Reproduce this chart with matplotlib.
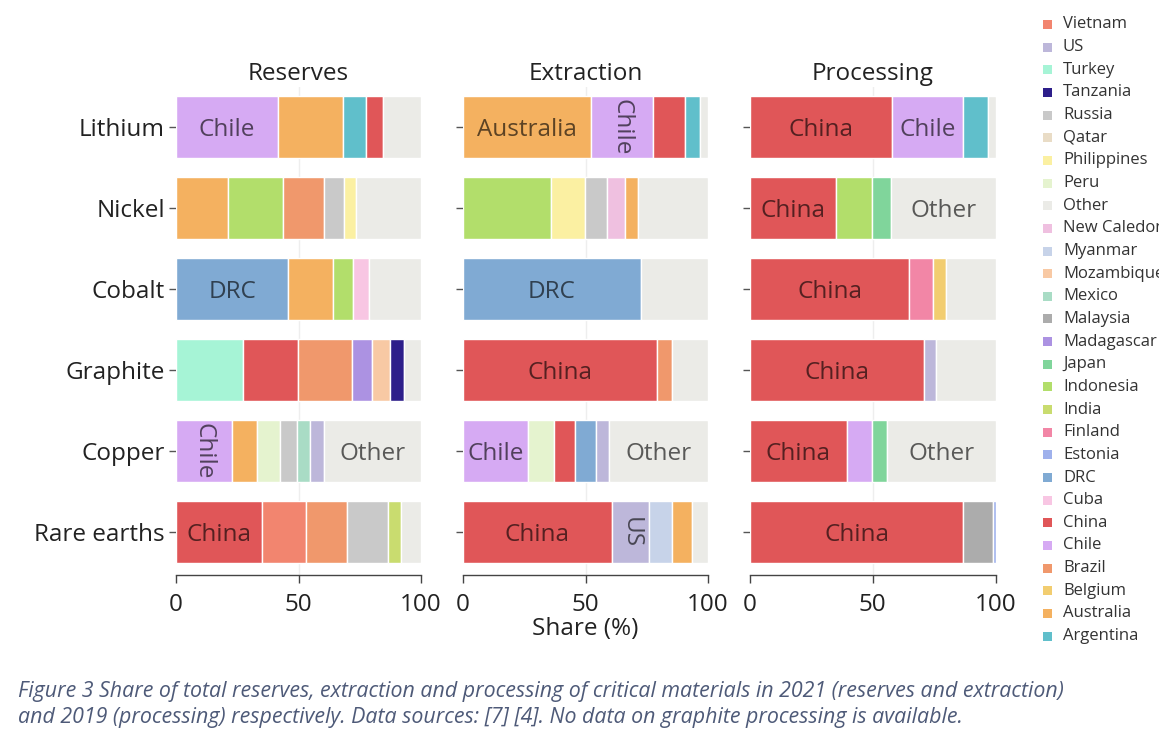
import matplotlib
matplotlib.use("Agg")
import matplotlib.pyplot as plt
from matplotlib.patches import Rectangle

# ---------------- data ----------------
materials = ["Lithium", "Nickel", "Cobalt", "Graphite", "Copper", "Rare earths"]
panel_titles = ["Reserves", "Extraction", "Processing"]
x_ticks = [0, 50, 100]

reserves_countries = [
    ["Chile", "Australia", "Argentina", "China", "Other"],
    ["Australia", "Indonesia", "Brazil", "Russia", "Philippines", "Other"],
    ["DRC", "Australia", "Indonesia", "Cuba", "Other"],
    ["Turkey", "China", "Brazil", "Madagascar", "Mozambique", "Tanzania", "Other"],
    ["Chile", "Australia", "Peru", "Russia", "Mexico", "US", "Other"],
    ["China", "Vietnam", "Brazil", "Russia", "India", "Other"],
]
reserves_shares = [
    [41.6, 26.4, 9.6, 7.0, 15.4],
    [21.4, 22.2, 16.8, 8.0, 4.9, 26.7],
    [45.9, 18.3, 7.9, 6.7, 21.2],
    [27.5, 22.4, 22.1, 8.0, 7.3, 5.9, 6.8],
    [22.7, 10.4, 9.3, 6.9, 5.5, 5.6, 39.6],
    [35.1, 17.9, 16.7, 17.0, 5.0, 8.3],
]
reserves_labelled = [["Chile"], [], ["DRC"], [], ["Chile", "Other"], ["China"]]

extraction_countries = [
    ["Australia", "Chile", "China", "Argentina", "Other"],
    ["Indonesia", "Philippines", "Russia", "New Caledonia", "Australia", "Other"],
    ["DRC", "Other"],
    ["China", "Brazil", "Other"],
    ["Chile", "Peru", "China", "DRC", "US", "Other"],
    ["China", "US", "Myanmar", "Australia", "Other"],
]
extraction_shares = [
    [52.2, 25.2, 13.2, 6.1, 3.3],
    [36.0, 13.8, 9.0, 7.5, 5.3, 28.4],
    [72.5, 27.5],
    [79.3, 6.0, 14.7],
    [26.7, 10.6, 8.3, 8.6, 5.5, 40.3],
    [60.8, 15.1, 9.5, 8.1, 6.5],
]
extraction_labelled = [["Australia", "Chile"], [], ["DRC"], ["China"], ["Chile", "Other"], ["China", "US"]]

processing_countries = [
    ["China", "Chile", "Argentina", "Other"],
    ["China", "Indonesia", "Japan", "Other"],
    ["China", "Finland", "Belgium", "Other"],
    ["China", "US", "Other"],
    ["China", "Chile", "Japan", "Other"],
    ["China", "Malaysia", "Estonia"],
]
processing_shares = [
    [57.7, 29.2, 9.9, 3.2],
    [34.9, 14.7, 7.8, 42.6],
    [64.8, 9.6, 5.3, 20.3],
    [70.9, 5.0, 24.1],
    [39.5, 10.2, 6.0, 44.3],
    [86.9, 11.9, 1.2],
]
processing_labelled = [["China", "Chile"], ["China", "Other"], ["China"], ["China"], ["China", "Other"], ["China"]]

legend_order = ["Vietnam", "US", "Turkey", "Tanzania", "Russia", "Qatar", "Philippines",
                "Peru", "Other", "New Caledonia", "Myanmar", "Mozambique", "Mexico",
                "Malaysia", "Madagascar", "Japan", "Indonesia", "India", "Finland",
                "Estonia", "DRC", "Cuba", "China", "Chile", "Brazil", "Belgium",
                "Australia", "Argentina"]

caption_lines = [
    "Figure 3 Share of total reserves, extraction and processing of critical materials in 2021 (reserves and extraction)",
    "and 2019 (processing) respectively. Data sources: [7] [4]. No data on graphite processing is available.",
]

# ---------------- style ----------------
colors = {
    "Vietnam": "#f2856f", "US": "#bdb7da", "Turkey": "#a6f4d6", "Tanzania": "#2d1e8a",
    "Russia": "#c9c9c9", "Qatar": "#e9dcc6", "Philippines": "#fbf0a2", "Peru": "#e5f3cf",
    "Other": "#ebebe7", "New Caledonia": "#efc0e0", "Myanmar": "#c7d3e9",
    "Mozambique": "#f8c9a4", "Mexico": "#a9dcc5", "Malaysia": "#acacac",
    "Madagascar": "#ac92e2", "Japan": "#80d59b", "Indonesia": "#b2de6b",
    "India": "#c9dc6f", "Finland": "#f286a6", "Estonia": "#9fb1ec", "DRC": "#80aad3",
    "Cuba": "#f8c6e3", "China": "#e05658", "Chile": "#d6aaf3", "Brazil": "#f0986c",
    "Belgium": "#f2cd70", "Australia": "#f4b160", "Argentina": "#60bfcb",
}

plt.rcParams["font.family"] = ["Open Sans", "DejaVu Sans"]
FS = 17.5

W, H = 1159, 752
fig = plt.figure(figsize=(W / 100, H / 100), dpi=100)
fig.patch.set_facecolor("white")

panel_x = [(176, 421), (463, 708), (750, 995.5)]
y_top, y_bot = 86.5, 575
bar_h = 0.765

panels = [
    (reserves_countries, reserves_shares, reserves_labelled),
    (extraction_countries, extraction_shares, extraction_labelled),
    (processing_countries, processing_shares, processing_labelled),
]

renderer = fig.canvas.get_renderer()

for p, ((x0, x1), (countries, shares, labelled)) in enumerate(zip(panel_x, panels)):
    ax = fig.add_axes([x0 / W, 1 - y_bot / H, (x1 - x0) / W, (y_bot - y_top) / H])
    ax.set_xlim(0, 100)
    ax.set_ylim(5.53, -0.5)
    ax.axvline(50, color="#eeeeee", lw=1, zorder=0)
    px_per_unit = (x1 - x0) / 100.0
    for i in range(len(materials)):
        left = 0.0
        for c, s in zip(countries[i], shares[i]):
            ax.barh(i, s, left=left, height=bar_h, color=colors[c],
                    edgecolor="white", linewidth=1.0, zorder=2)
            if c in labelled[i]:
                t = ax.text(left + s / 2, i, c, ha="center", va="center_baseline",
                            fontsize=FS, color="black", alpha=0.62, zorder=3)
                tw = t.get_window_extent(renderer).width
                if tw + 8 > s * px_per_unit:
                    t.set_rotation(-90)
                    t.set_va("center")
            left += s
    for sp in ["top", "right", "left"]:
        ax.spines[sp].set_visible(False)
    ax.spines["bottom"].set_color("#444444")
    ax.spines["bottom"].set_linewidth(1.0)
    ax.set_xticks(x_ticks)
    ax.set_xticklabels([str(v) for v in x_ticks])
    ax.tick_params(axis="x", length=6, width=1, color="#444444", labelsize=FS,
                   labelcolor="#222222", pad=7)
    ax.set_yticks(range(len(materials)))
    if p == 0:
        ax.set_yticklabels(materials)
    else:
        ax.set_yticklabels([])
    ax.tick_params(axis="y", length=5, width=1, color="#555555", labelsize=FS,
                   labelcolor="#222222", pad=3)
    ax.set_title(panel_titles[p], fontsize=FS, color="#222222", pad=4)
    if p == 1:
        ax.set_xlabel("Share (%)", fontsize=FS, color="#222222", labelpad=0)

# legend (manual, like the reference)
y0, dy = 24.5, 22.65
for k, name in enumerate(legend_order):
    yc = y0 + k * dy
    fig.add_artist(Rectangle(((1043) / W, 1 - (yc + 4.5) / H), 9 / W, 9 / H,
                             transform=fig.transFigure, facecolor=colors[name],
                             edgecolor="none"))
    fig.text(1063 / W, 1 - yc / H, name, fontsize=12, color="#333333",
             va="center", ha="left")

# caption
for j, line in enumerate(caption_lines):
    fig.text(18 / W, 1 - (691 + 26 * j) / H, line, fontsize=15.4, style="italic",
             color="#4e5a78", va="center", ha="left")

fig.savefig("out.png", dpi=100)
